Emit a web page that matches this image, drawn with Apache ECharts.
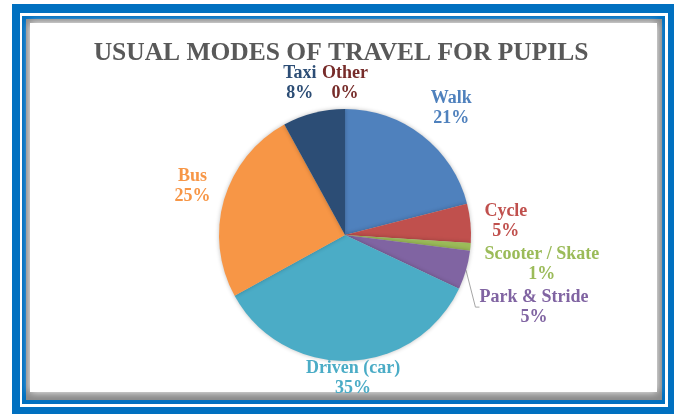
<!DOCTYPE html>
<html>
<head>
<meta charset="utf-8">
<script src="https://cdn.jsdelivr.net/npm/echarts@6/dist/echarts.min.js"></script>
<style>
  html, body { margin: 0; padding: 0; background: #fff; }
  #main { width: 682px; height: 414px; }
</style>
</head>
<body>
<div id="main"></div>
<script>
// data (percent of pupils)
const modes = ['Walk', 'Cycle', 'Scooter / Skate', 'Park & Stride', 'Driven (car)', 'Bus', 'Taxi', 'Other'];
const shares = [21, 5, 1, 5, 35, 25, 8, 0];
const sliceColors = ['#4F81BD', '#C0504D', '#9BBB59', '#8064A2', '#4BACC6', '#F79646', '#2C4D75', '#772C2A'];

const chart = echarts.init(document.getElementById('main'));

const cx = 345, cy = 235, R = 126;
const plotTop = 63, plotBottom = 398;   // labels are kept inside this band
const total = shares.reduce((a, b) => a + b, 0);

// middle angle of every slice (deg, counter-clockwise from 3 o'clock), pie starts at 12 o'clock going clockwise
const midAngles = [];
let acc = 0;
shares.forEach(v => {
  midAngles.push(90 - (acc + v / 2) / total * 360);
  acc += v;
});

// put label box just outside the rim at the slice's middle angle (roughly what excel does),
// keep it in the plot area and push right-hand labels down so they don't sit on each other
let lastBottom = -Infinity;
function placeLabel(p) {
  if (p.dataIndex === 0) lastBottom = -Infinity;
  const a = midAngles[p.dataIndex] * Math.PI / 180;
  const dx = Math.cos(a), dy = -Math.sin(a);
  const w = p.labelRect.width / 2, h = p.labelRect.height / 2;
  const fx = Math.sign(dx) * Math.min(1, Math.abs(dx) * 2.5);
  const fy = Math.sign(dy) * Math.min(1, Math.abs(dy) * 2.5);
  const x = cx + (R + 14) * dx + w * fx;
  let y = cy + (R + 14) * dy + h * fy + 4;
  y = Math.max(plotTop + h, Math.min(plotBottom - h, y));
  if (dx > 0) {
    if (y - h < lastBottom + 3) y = lastBottom + 3 + h;
    lastBottom = y + h;
  }
  return { x: x, y: y, align: 'center', verticalAlign: 'middle' };
}

const pieData = modes.map((name, i) => ({
  name: name,
  value: shares[i],
  itemStyle: { color: sliceColors[i] },
  label: { color: sliceColors[i] },
  labelLine: { show: name === 'Park & Stride' }
}));

chart.setOption({
  animation: false,
  graphic: {
    z: -100,
    elements: [
      // blue double frame with a soft inner shadow
      { type: 'rect', z: -100, shape: { x: 12, y: 4, width: 662, height: 420 }, style: { fill: '#0070C0' } },
      { type: 'rect', z: -100, shape: { x: 20, y: 13, width: 648, height: 394 }, style: { fill: '#ffffff' } },
      { type: 'rect', z: -100, shape: { x: 22, y: 16, width: 643, height: 388 }, style: { fill: '#0070C0' } },
      { type: 'rect', z: -100, shape: { x: 26, y: 19, width: 636, height: 381 }, style: { fill: '#8a8a8a' } },
      {
        type: 'rect', z: -100,
        shape: { x: 30, y: 23, width: 627, height: 369 },
        style: { fill: '#ffffff', shadowBlur: 8, shadowColor: '#ffffff' }
      }
    ]
  },
  title: {
    text: 'USUAL MODES OF TRAVEL FOR PUPILS',
    left: 'center',
    top: 35,
    textStyle: {
      fontFamily: 'Liberation Serif',
      fontWeight: 'bold',
      fontSize: 25.5,
      color: '#595959'
    }
  },
  series: [
    {
      type: 'pie',
      z: 10,
      center: [cx, cy],
      radius: R,
      startAngle: 90,
      clockwise: true,
      data: pieData,
      itemStyle: {
        borderWidth: 0,
        shadowBlur: 4,
        shadowColor: 'rgba(0,0,0,0.25)'
      },
      label: {
        show: true,
        position: 'outside',
        formatter: '{b}\n{c}%',
        fontFamily: 'Liberation Serif',
        fontWeight: 'bold',
        fontSize: 18,
        lineHeight: 20
      },
      labelLine: {
        show: false,
        length: 8,
        length2: 4,
        lineStyle: { color: '#a6a6a6', width: 1 }
      },
      labelLayout: placeLabel
    }
  ]
});

window.addEventListener('resize', () => { chart.resize(); });
</script>
</body>
</html>
